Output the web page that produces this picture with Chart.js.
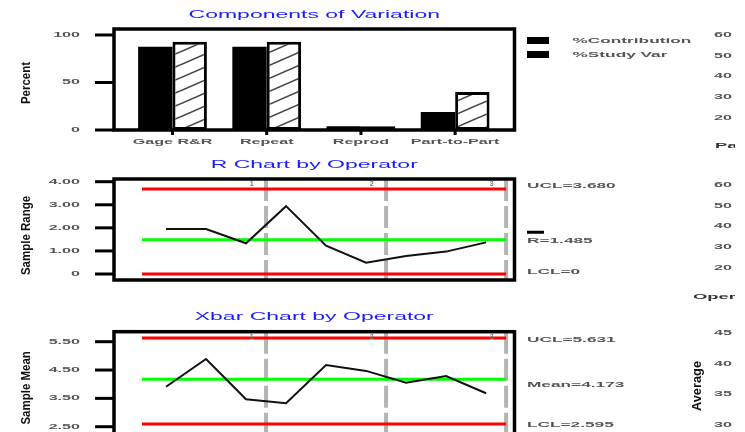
<!DOCTYPE html>
<html>
<head>
<meta charset="utf-8">
<script src="https://cdn.jsdelivr.net/npm/chart.js@4.4.0/dist/chart.umd.min.js"></script>
<style>
    html, body { margin: 0; padding: 0; background: #fff; width: 745px; height: 432px; overflow: hidden; }
    canvas { position: absolute; left: 0; }
    #compChart { top: 0; }
    #rangeChart { top: 150px; }
    #meanChart { top: 300px; }
</style>
</head>
<body>
<canvas id="compChart" width="745" height="160"></canvas>
<canvas id="rangeChart" width="745" height="155"></canvas>
<canvas id="meanChart" width="745" height="160"></canvas>
<script>
// Components of Variation
const components = ['Gage R&R', 'Repeat', 'Reprod', 'Part-to-Part'];
const pctContribution = [87.7, 87.7, 4, 19];
const pctStudyVar = [93, 93, 4, 40];
const percentTicks = [0, 50, 100];
const legendLabels = ['%Contribution', '%Study Var'];

// R Chart by Operator
const operators = ['1', '2', '3'];
const partsPerOperator = 3;
const sampleRanges = [1.95, 1.95, 1.33, 2.94, 1.23, 0.49, 0.78, 0.97, 1.37];
const rangeLimits = [3.68, 1.485, 0];
const rangeLimitLabels = ['UCL=3.680', 'R=1.485', 'LCL=0'];
const rangeTicks = [0, 1, 2, 3, 4];

// Xbar Chart by Operator
const sampleMeans = [3.91, 4.89, 3.47, 3.33, 4.68, 4.47, 4.05, 4.29, 3.68];
const meanLimits = [5.631, 4.173, 2.595];
const meanLimitLabels = ['UCL=5.631', 'Mean=4.173', 'LCL=2.595'];
const meanTicks = [2.5, 3.5, 4.5, 5.5];

// right hand panels, cut off by the picture edge
const partPanelTicks = [60, 50, 40, 30, 20];
const operatorPanelTicks = [60, 50, 40, 30, 20];
const interactionTicks = [45, 40, 35, 30];

const FONT = '"Liberation Sans", Arial, sans-serif';
const limitColors = ['#ff0000', '#00ff00', '#ff0000'];

// text in the original is stretched sideways, so draw it scaled
function label(ctx, text, x, y, opt) {
    opt = opt || {};
    ctx.save();
    ctx.translate(x, y);
    if (opt.rotate) ctx.rotate(-Math.PI / 2);
    ctx.scale(opt.sx || 2.3, opt.sy || 1);
    ctx.font = (opt.weight || 'bold') + ' ' + (opt.size || 7) + 'px ' + FONT;
    ctx.fillStyle = opt.color || '#555';
    ctx.textAlign = opt.align || 'left';
    ctx.textBaseline = 'middle';
    ctx.fillText(text, 0, 0);
    ctx.restore();
}

function hatchPattern() {
    const c = document.createElement('canvas');
    c.width = 30;
    c.height = 13;
    const g = c.getContext('2d');
    g.fillStyle = '#fff';
    g.fillRect(0, 0, 30, 13);
    g.strokeStyle = '#444';
    g.lineWidth = 1.6;
    [-13, 0, 13].forEach(dy => {
        g.beginPath();
        g.moveTo(0, 13 + dy);
        g.lineTo(30, dy);
        g.stroke();
    });
    return g.createPattern(c, 'repeat');
}

// frame, ticks, titles and side labels of one panel
function decor(cfg) {
    return {
        id: 'decor',
        afterDatasetsDraw(chart) {
            const ctx = chart.ctx;
            const a = chart.chartArea;
            const xs = chart.scales.x;
            const ys = chart.scales.y;

            // operator names at the top of each section
            if (cfg.sections) {
                cfg.sections.forEach((t, i) => {
                    const px = xs.getPixelForValue((i + 1) * partsPerOperator + 0.19);
                    label(ctx, t, px, a.top + 5, { sx: 1, color: '#777', align: 'right' });
                });
            }

            ctx.save();
            ctx.strokeStyle = '#000';
            ctx.lineWidth = 3.5;
            ctx.strokeRect(a.left, a.top, a.width, a.height);

            ctx.lineWidth = 3;
            cfg.yTicks.forEach((v, i) => {
                const py = ys.getPixelForValue(v);
                ctx.beginPath();
                ctx.moveTo(a.left - 19, py);
                ctx.lineTo(a.left, py);
                ctx.stroke();
                label(ctx, cfg.yTickLabels[i], a.left - 34, py, { align: 'right' });
            });

            if (cfg.xLabels) {
                cfg.xLabels.forEach((t, i) => {
                    const px = xs.getPixelForValue(i + 1);
                    ctx.beginPath();
                    ctx.moveTo(px, a.bottom);
                    ctx.lineTo(px, a.bottom + 5);
                    ctx.stroke();
                    label(ctx, t, px, a.bottom + 12, { align: 'center' });
                });
            }
            ctx.restore();

            label(ctx, cfg.title, a.left + a.width / 2, a.top - 14,
                { size: 10, weight: 'normal', align: 'center', color: '#1a1aff' });
            label(ctx, cfg.yTitle, 26, a.top + a.height / 2 + cfg.yTitleDy,
                { rotate: true, size: 10, sx: 1.15, sy: 1.3, align: 'center', color: '#111' });

            if (cfg.limits) {
                cfg.limits.forEach((v, i) => {
                    const py = ys.getPixelForValue(v) + cfg.limitDy[i];
                    label(ctx, cfg.limitLabels[i], a.right + 12.5, py, { size: 7.5 });
                    if (i === 1 && cfg.barOverCenter) {
                        ctx.fillStyle = '#000';
                        ctx.fillRect(a.right + 12.5, py - 10, 17, 3);
                    }
                });
            }

            if (cfg.legend) {
                cfg.legend.forEach((t, i) => {
                    ctx.fillStyle = '#000';
                    ctx.fillRect(a.right + 12.5, a.top + 8 + i * 14, 22, 7);
                    label(ctx, t, a.right + 58, a.top + 12 + i * 14, { size: 7.5 });
                });
            }

            // tick labels of the panel on the right, clipped at the picture edge
            ctx.save();
            ctx.beginPath();
            ctx.rect(0, 0, 735, chart.height);
            ctx.clip();
            const y2 = chart.scales.y2;
            cfg.rightTicks.forEach(v => {
                label(ctx, String(v), 732, y2.getPixelForValue(v), { align: 'right' });
            });
            const rt = cfg.rightTitle;
            if (rt.rotate) {
                label(ctx, rt.text, rt.x, rt.y,
                    { rotate: true, size: 10, sx: 1.28, sy: 1.3, align: 'center', color: '#111' });
            } else {
                label(ctx, rt.text, rt.x, rt.y, { size: 8, color: '#333' });
            }
            ctx.restore();
        }
    };
}

function hiddenLinear(min, max) {
    return { type: 'linear', display: false, offset: false, min: min, max: max };
}

// Components of Variation
const compX = hiddenLinear(0.379, 4.63);
// one tick per component so the bar width follows the category spacing
compX.afterBuildTicks = scale => {
    scale.ticks = components.map((c, i) => ({ value: i + 1 }));
};

new Chart(document.getElementById('compChart'), {
    type: 'bar',
    data: {
        datasets: [
            {
                label: legendLabels[0],
                data: components.map((c, i) => ({ x: i + 1, y: pctContribution[i] })),
                backgroundColor: '#000',
                borderWidth: 0,
                categoryPercentage: 0.73,
                barPercentage: 1
            },
            {
                label: legendLabels[1],
                data: components.map((c, i) => ({ x: i + 1, y: pctStudyVar[i] })),
                backgroundColor: hatchPattern(),
                borderColor: '#000',
                borderWidth: 3,
                borderSkipped: false,
                categoryPercentage: 0.73,
                barPercentage: 1
            }
        ]
    },
    options: {
        responsive: false,
        animation: false,
        layout: { padding: { left: 114, right: 230.5, top: 29, bottom: 30 } },
        plugins: { legend: { display: false }, tooltip: { enabled: false } },
        scales: {
            x: compX,
            y: hiddenLinear(0, 106.3),
            y2: hiddenLinear(14.22, 62.89)
        }
    },
    plugins: [decor({
        title: 'Components of Variation',
        yTitle: 'Percent',
        yTitleDy: 3.5,
        yTicks: percentTicks,
        yTickLabels: percentTicks.map(v => String(v)),
        xLabels: components,
        legend: legendLabels,
        rightTicks: partPanelTicks,
        rightTitle: { text: 'Part', x: 715, y: 146 }
    })]
});

function controlDatasets(values, limits, yMin, yMax) {
    const lastX = values.length + 0.5;
    const sets = [{
        data: values.map((v, i) => ({ x: i + 1, y: v })),
        borderColor: '#111',
        borderWidth: 2,
        pointRadius: 0,
        order: 0
    }];
    limits.forEach((v, i) => {
        sets.push({
            data: [{ x: 0.4, y: v }, { x: lastX, y: v }],
            borderColor: limitColors[i],
            borderWidth: 3,
            pointRadius: 0,
            order: 1
        });
    });
    operators.forEach((op, i) => {
        const d = (i + 1) * partsPerOperator + 0.5;
        sets.push({
            data: [{ x: d, y: yMax }, { x: d, y: yMin }],
            borderColor: '#b4b4b4',
            borderWidth: 4,
            borderDash: [22, 5],
            pointRadius: 0,
            order: 2
        });
    });
    return sets;
}

function controlChart(id, values, limits, yMin, yMax, pad, y2, cfg) {
    new Chart(document.getElementById(id), {
        type: 'line',
        data: { datasets: controlDatasets(values, limits, yMin, yMax) },
        options: {
            responsive: false,
            animation: false,
            layout: { padding: pad },
            plugins: { legend: { display: false }, tooltip: { enabled: false } },
            scales: {
                x: hiddenLinear(-0.3, 9.71),
                y: hiddenLinear(yMin, yMax),
                y2: hiddenLinear(y2[0], y2[1])
            }
        },
        plugins: [decor(cfg)]
    });
}

// R Chart by Operator
controlChart('rangeChart', sampleRanges, rangeLimits, -0.26, 4.117,
    { left: 114, right: 230.5, top: 29, bottom: 25 }, [14.22, 62.89], {
        title: 'R Chart by Operator',
        yTitle: 'Sample Range',
        yTitleDy: 6,
        yTicks: rangeTicks,
        yTickLabels: rangeTicks.map(v => v === 0 ? '0' : v.toFixed(2)),
        sections: operators,
        limits: rangeLimits,
        limitLabels: rangeLimitLabels,
        limitDy: [-3, 1, -2.5],
        barOverCenter: true,
        rightTicks: operatorPanelTicks,
        rightTitle: { text: 'Operator', x: 693, y: 147 }
    });

// Xbar Chart by Operator
controlChart('meanChart', sampleMeans, meanLimits, 1.89, 5.853,
    { left: 114, right: 230.5, top: 31.7, bottom: 16 }, [26.9, 45.21], {
        title: 'Xbar Chart by Operator',
        yTitle: 'Sample Mean',
        yTitleDy: 0,
        yTicks: meanTicks,
        yTickLabels: meanTicks.map(v => v.toFixed(2)),
        sections: operators,
        limits: meanLimits,
        limitLabels: meanLimitLabels,
        limitDy: [1.5, 5.5, 1],
        rightTicks: interactionTicks,
        rightTitle: { text: 'Average', x: 697, y: 86, rotate: true }
    });
</script>
</body>
</html>
